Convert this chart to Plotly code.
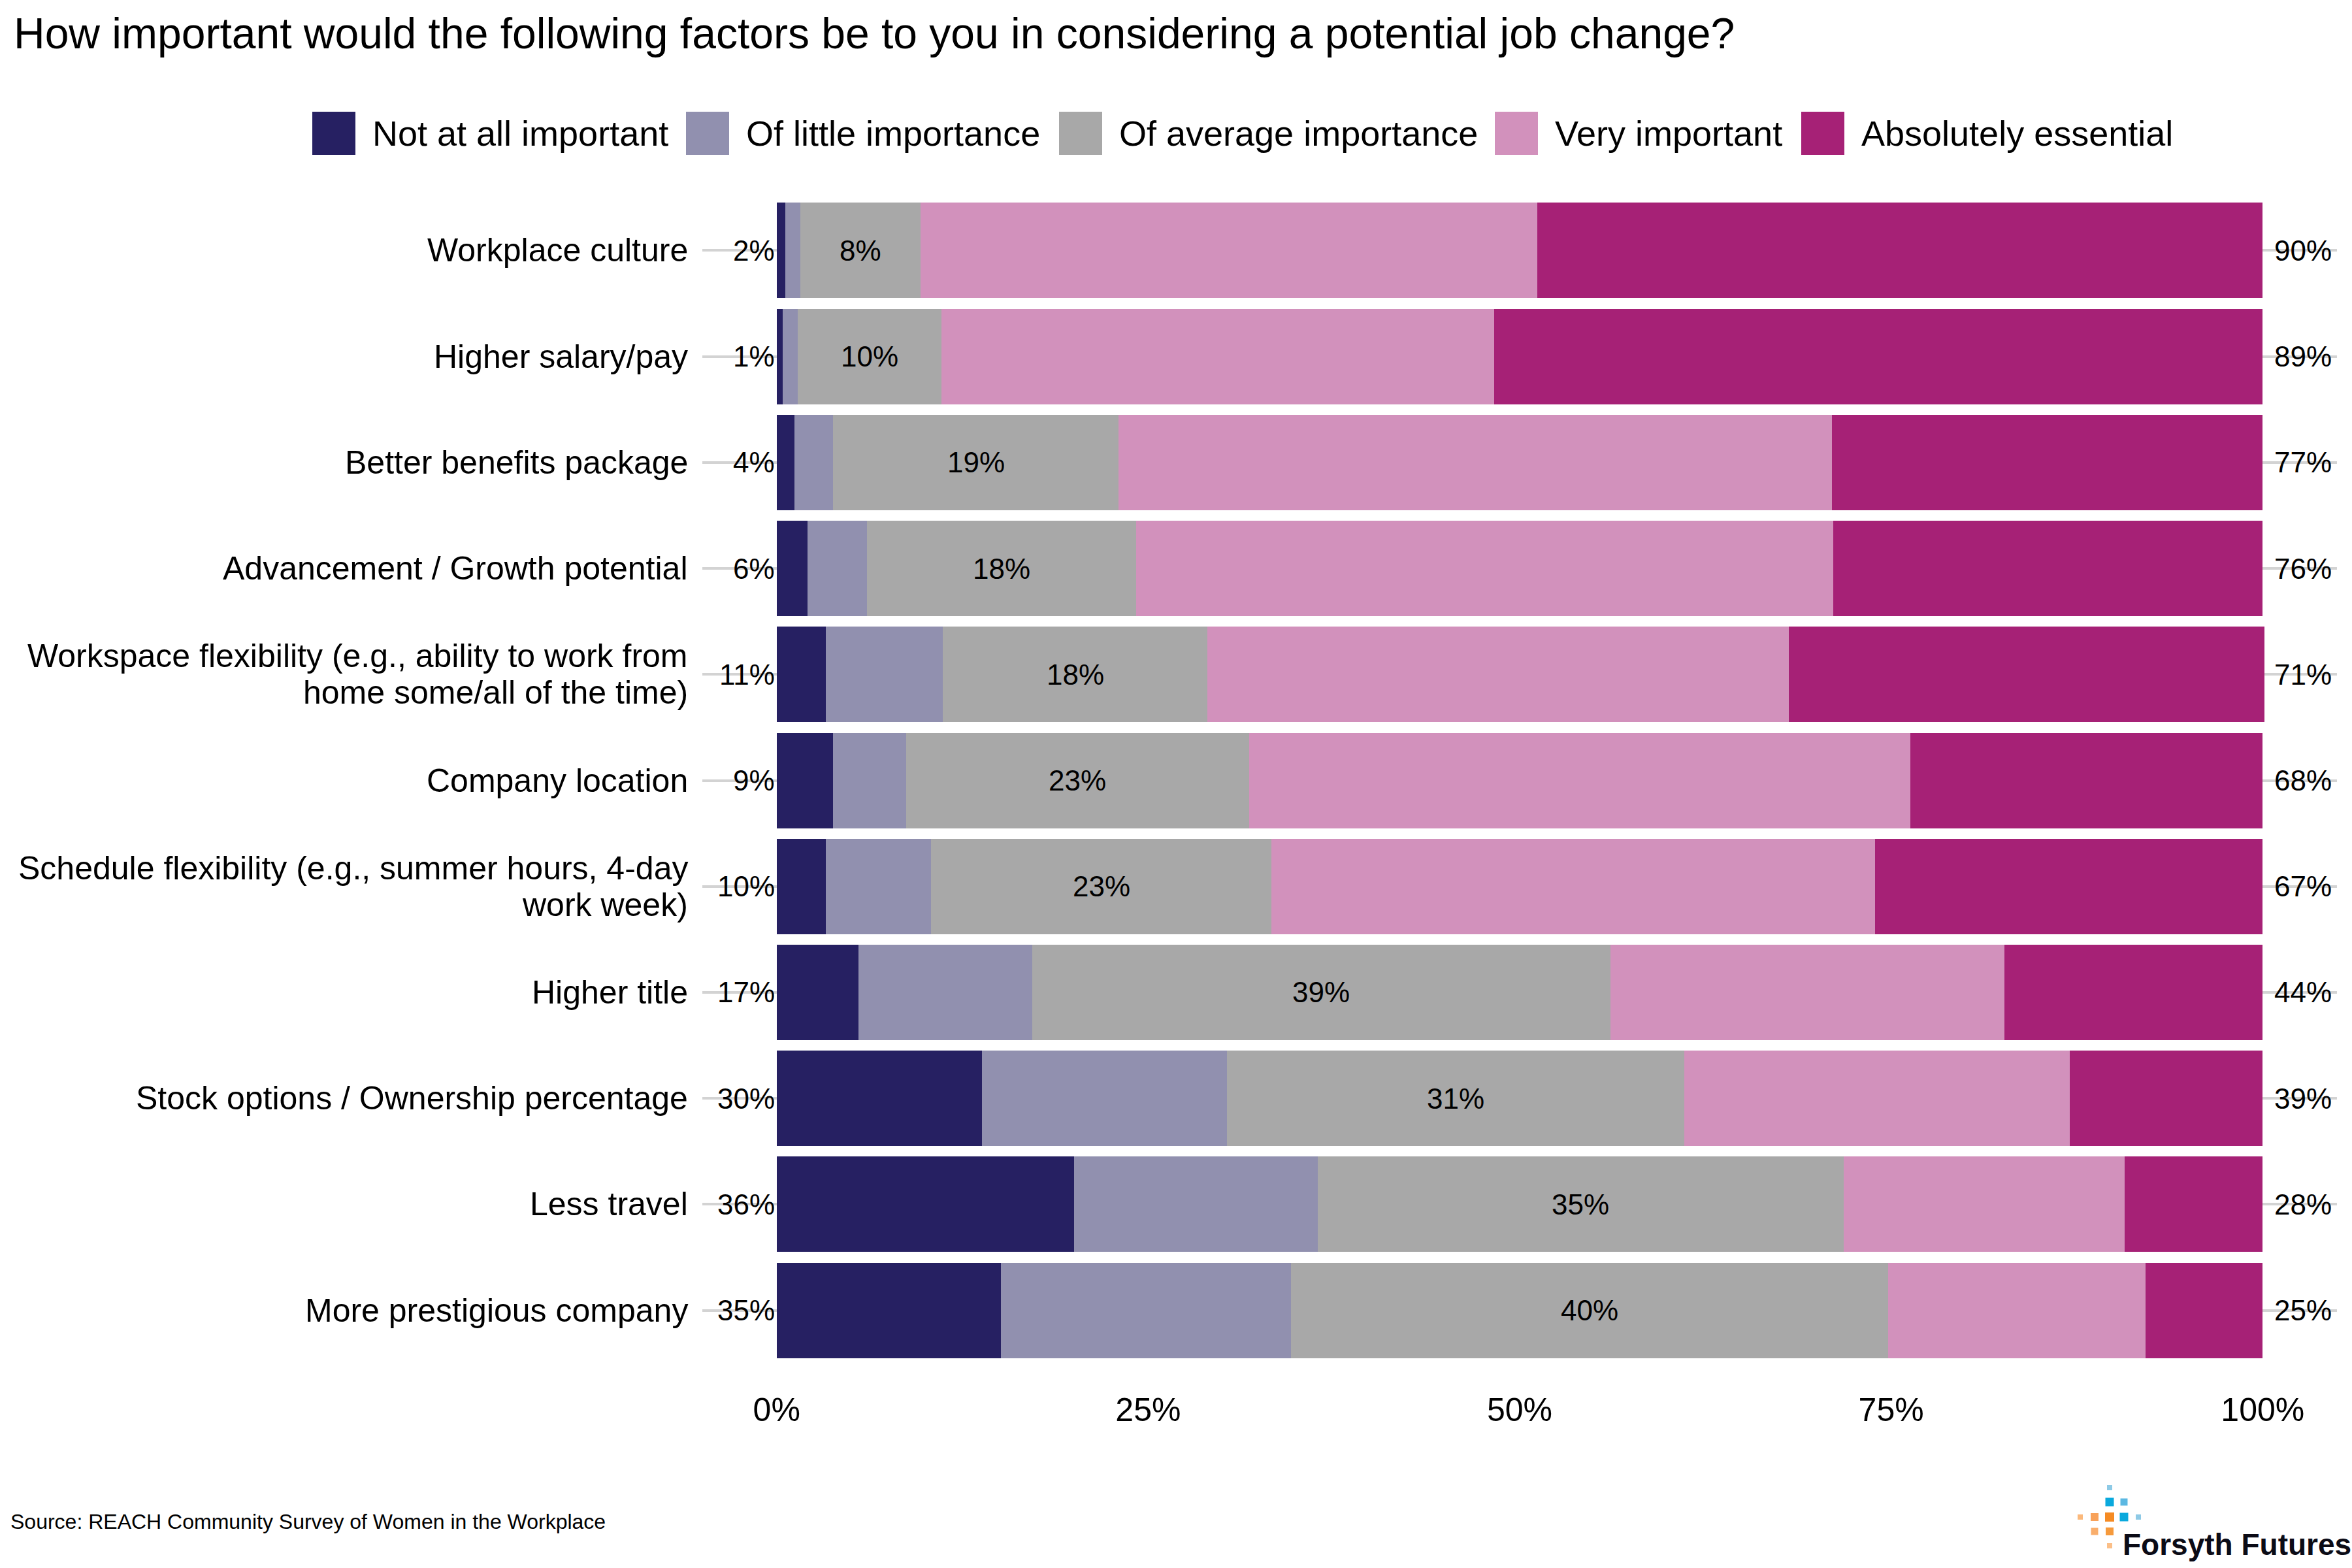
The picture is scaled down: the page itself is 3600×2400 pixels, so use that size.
import plotly.graph_objects as go

# ---------------- data ----------------
categories = [
    "Workplace culture",
    "Higher salary/pay",
    "Better benefits package",
    "Advancement / Growth potential",
    "Workspace flexibility (e.g., ability to work from<br>home some/all of the time)",
    "Company location",
    "Schedule flexibility (e.g., summer hours, 4-day<br>work week)",
    "Higher title",
    "Stock options / Ownership percentage",
    "Less travel",
    "More prestigious company",
]
levels = ["Not at all important", "Of little importance", "Of average importance",
          "Very important", "Absolutely essential"]

not_at_all = [0.6, 0.4, 1.2, 2.1, 3.3, 3.8, 3.3, 5.5, 13.8, 20.0, 15.1]
little     = [1.0, 1.0, 2.6, 4.0, 7.9, 4.9, 7.1, 11.7, 16.5, 16.4, 19.5]
average    = [8.1, 9.7, 19.2, 18.1, 17.8, 23.1, 22.9, 38.9, 30.8, 35.4, 40.2]
very       = [41.5, 37.2, 48.0, 46.9, 39.1, 44.5, 40.6, 26.5, 25.9, 18.9, 17.3]
essential  = [48.8, 51.7, 29.0, 28.9, 32.0, 23.7, 26.1, 17.4, 13.0, 9.3, 7.9]

x_tickvals = [0, 25, 50, 75, 100]
x_ticktext = ["0%", "25%", "50%", "75%", "100%"]

title_text = "How important would the following factors be to you in considering a potential job change?"
source_text = "Source: REACH Community Survey of Women in the Workplace"
logo_text = "Forsyth Futures"

colors = ["#262062", "#9190af", "#a8a8a8", "#d291bc", "#a62176"]

# ---------------- layout geometry (pixels) ----------------
W, H = 3600, 2400
L, R, T, B = 1075, 23, 286, 297
PW, PH = W - L - R, H - T - B


def px_x(px):
    return (px - L) / PW


def px_y(py):
    return (H - B - py) / PH


FONT = "Liberation Sans, Arial, sans-serif"


def rnd(v):
    return int(v + 0.5)


fig = go.Figure()
series = [not_at_all, little, average, very, essential]
for name, vals, col in zip(levels, series, colors):
    fig.add_trace(go.Bar(
        y=categories, x=vals, name=name, orientation="h",
        marker=dict(color=col, line=dict(width=0)),
        width=0.9, showlegend=False, hoverinfo="x+y+name",
    ))

annotations = []
# category labels (custom line spacing)
LINE_GAP = 56
for cat in categories:
    lines = cat.split("<br>")
    n = len(lines)
    for k, line in enumerate(lines):
        annotations.append(dict(x=0, y=cat, xref="paper", yref="y", text=line,
                                xanchor="right", yanchor="middle", showarrow=False,
                                xshift=-20, yshift=((n - 1) / 2 - k) * LINE_GAP,
                                font=dict(size=50, color="black", family=FONT)))

# value labels
for i, cat in enumerate(categories):
    left_val = rnd(not_at_all[i] + little[i])
    mid_val = rnd(average[i])
    right_val = rnd(very[i] + essential[i])
    mid_x = not_at_all[i] + little[i] + average[i] / 2
    annotations.append(dict(x=0, y=cat, xref="x", yref="y", text=f"{left_val}%",
                            xanchor="right", yanchor="middle", showarrow=False, xshift=-1,
                            font=dict(size=44, color="black", family=FONT)))
    annotations.append(dict(x=mid_x, y=cat, xref="x", yref="y", text=f"{mid_val}%",
                            xanchor="center", yanchor="middle", showarrow=False,
                            font=dict(size=44, color="black", family=FONT)))
    annotations.append(dict(x=100, y=cat, xref="x", yref="y", text=f"{right_val}%",
                            xanchor="left", yanchor="middle", showarrow=False, xshift=16,
                            font=dict(size=44, color="black", family=FONT)))

shapes = []
# manual legend (large square swatches)
legend_x = [478, 1050, 1621, 2288, 2757]
for sx, name, col in zip(legend_x, levels, colors):
    shapes.append(dict(type="rect", xref="paper", yref="paper",
                       x0=px_x(sx), x1=px_x(sx + 66), y0=px_y(237), y1=px_y(171),
                       fillcolor=col, line=dict(width=0), layer="above"))
    annotations.append(dict(x=px_x(sx + 90), y=px_y(204), xref="paper", yref="paper",
                            text=name, xanchor="left", yanchor="middle", showarrow=False,
                            font=dict(size=54, color="black", family=FONT)))

# title
annotations.append(dict(x=px_x(19), y=px_y(51), xref="paper", yref="paper",
                        text=title_text, xanchor="left", yanchor="middle", showarrow=False,
                        font=dict(size=66, color="black", family=FONT)))
# source
annotations.append(dict(x=px_x(14), y=px_y(2329), xref="paper", yref="paper",
                        text=source_text, xanchor="left", yanchor="middle", showarrow=False,
                        font=dict(size=32, color="black", family=FONT)))
# logo text
annotations.append(dict(x=px_x(3247), y=px_y(2364), xref="paper", yref="paper",
                        text="<b>" + logo_text + "</b>", xanchor="left", yanchor="middle",
                        showarrow=False,
                        font=dict(size=46, color="#0b0b16", family=FONT)))

# logo dots (cx, cy, size, color)
logo_dots = [
    (3229, 2277, 8, "#8ecae6"),
    (3229, 2299, 13, "#0aa9dd"),
    (3251, 2299, 11, "#5cb8e2"),
    (3184, 2322, 8, "#fbb97c"),
    (3206, 2322, 12, "#f8a25a"),
    (3229, 2322, 14, "#f58b24"),
    (3251, 2322, 13, "#0aa9dd"),
    (3273, 2322, 8, "#8ecae6"),
    (3206, 2344, 11, "#f9ae6c"),
    (3229, 2344, 12, "#f69a3c"),
    (3229, 2366, 8, "#fbbf88"),
]
for cx, cy, s, col in logo_dots:
    shapes.append(dict(type="rect", xref="paper", yref="paper",
                       x0=px_x(cx - s / 2), x1=px_x(cx + s / 2),
                       y0=px_y(cy + s / 2), y1=px_y(cy - s / 2),
                       fillcolor=col, line=dict(width=0), layer="above"))

fig.update_layout(
    width=W, height=H,
    margin=dict(l=L, r=R, t=T, b=B, pad=0),
    barmode="stack", bargap=0.1,
    paper_bgcolor="white", plot_bgcolor="white",
    font=dict(family=FONT, color="black"),
    showlegend=False,
    annotations=annotations,
    shapes=shapes,
    xaxis=dict(range=[-5, 105], tickvals=x_tickvals, ticktext=x_ticktext,
               showgrid=False, zeroline=False, showline=False,
               ticks="outside", ticklen=11, tickcolor="rgba(0,0,0,0)",
               tickfont=dict(size=50, color="black", family=FONT)),
    yaxis=dict(categoryorder="array", categoryarray=categories,
               range=[10.6, -0.6], showgrid=True, gridcolor="#d3d3d3", gridwidth=4,
               zeroline=False, showline=False, showticklabels=False, ticks=""),
)

fig.write_html("out.html",
               config={"displayModeBar": False},
               post_script="document.body.style.margin='0';document.body.style.overflow='hidden';")
